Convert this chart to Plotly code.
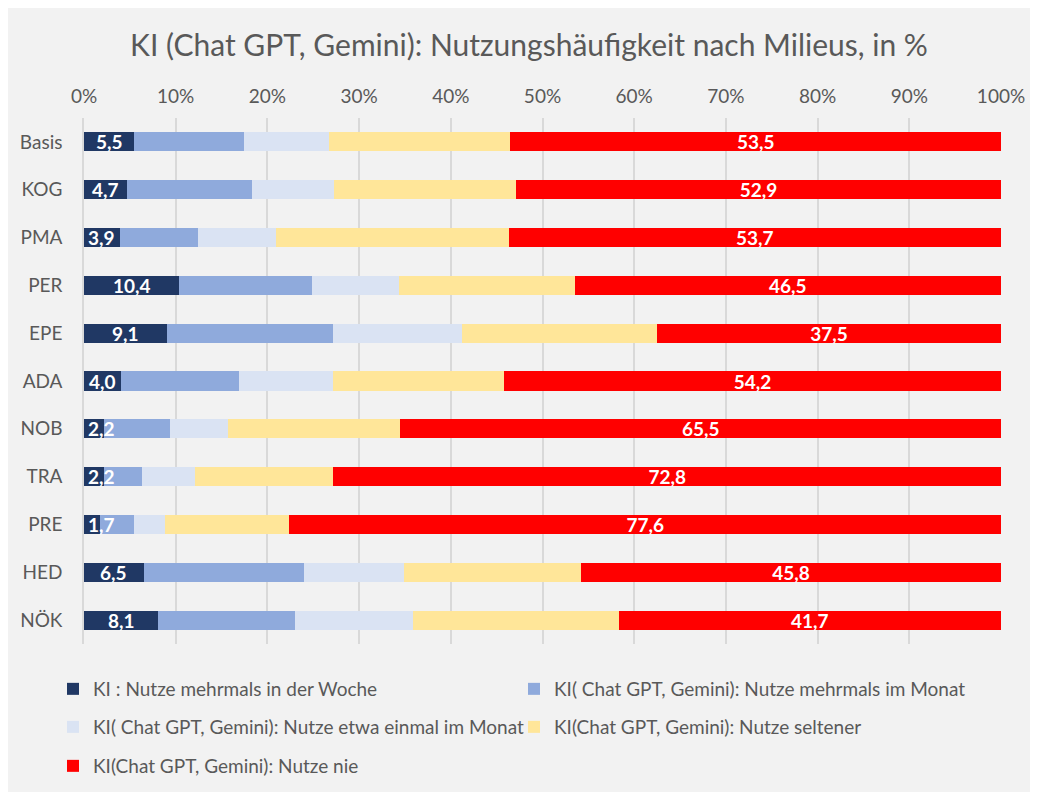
import plotly.graph_objects as go

categories = ["Basis", "KOG", "PMA", "PER", "EPE", "ADA", "NOB", "TRA", "PRE", "HED", "NÖK"]
weekly = [5.5, 4.7, 3.9, 10.4, 9.1, 4.0, 2.2, 2.2, 1.7, 6.5, 8.1]
monthly_multi = [11.9, 13.6, 8.5, 14.5, 18.0, 12.9, 7.2, 4.1, 3.7, 17.5, 14.9]
monthly_once = [9.3, 9.0, 8.5, 9.4, 14.1, 10.3, 6.3, 5.8, 3.4, 10.9, 12.9]
rarely = [19.8, 19.8, 25.4, 19.2, 21.3, 18.6, 18.8, 15.1, 13.6, 19.3, 22.4]
never = [53.5, 52.9, 53.7, 46.5, 37.5, 54.2, 65.5, 72.8, 77.6, 45.8, 41.7]

tick_values = [0, 10, 20, 30, 40, 50, 60, 70, 80, 90, 100]
tick_labels = ["0%", "10%", "20%", "30%", "40%", "50%", "60%", "70%", "80%", "90%", "100%"]

series_names = [
    "KI : Nutze mehrmals in der Woche",
    "KI( Chat GPT, Gemini): Nutze mehrmals im Monat",
    "KI( Chat GPT, Gemini): Nutze etwa einmal im Monat",
    "KI(Chat GPT, Gemini): Nutze seltener",
    "KI(Chat GPT, Gemini): Nutze nie",
]
colors = ["#203864", "#8faadc", "#dae3f3", "#ffe699", "#ff0000"]
series = [weekly, monthly_multi, monthly_once, rarely, never]
labeled = [False, False, False, False, True]
legend_ids = ["legend", "legend", "legend2", "legend2", "legend3"]

def fmt(v):
    return f"{v:.1f}".replace(".", ",")

font_family = "Lato, 'Open Sans', 'Liberation Sans', sans-serif"
gray = "#595959"

# figure is placed by the page with an 8px offset; size/coords account for it
W, H = 1030, 784
L, R, T, B = 76, 37, 110, 148
PW, PH = W - L - R, H - T - B

label_font = dict(color="white", size=19, family=font_family, weight="bold")

fig = go.Figure()
for name, vals, col, lab, lg in zip(series_names, series, colors, labeled, legend_ids):
    fig.add_trace(go.Bar(
        y=categories, x=vals, name=name, orientation="h",
        marker=dict(color=col, line=dict(width=0)),
        text=[fmt(v) for v in vals] if lab else None,
        textposition="inside" if lab else "none",
        insidetextanchor="middle",
        textangle=0,
        constraintext="none",
        textfont=label_font,
        legend=lg,
        hoverinfo="skip",
    ))

# labels for the first (dark) segment: centred, but kept inside the plot when the segment is narrow
annotations = []
for cat, v in zip(categories, weekly):
    if v < 3.0:
        annotations.append(dict(x=0, y=cat, xref="x", yref="y", text=fmt(v), showarrow=False,
                                xanchor="left", xshift=2, font=label_font))
    else:
        annotations.append(dict(x=v / 2, y=cat, xref="x", yref="y", text=fmt(v), showarrow=False,
                                xanchor="center", font=label_font))

legend_common = dict(
    orientation="h", entrywidth=416, entrywidthmode="pixels",
    font=dict(size=19, color=gray, family=font_family),
    bgcolor="rgba(0,0,0,0)", itemwidth=30, xanchor="left", yanchor="middle",
    traceorder="normal",
)
lx = (45 - L) / PW

fig.update_layout(
    barmode="stack",
    bargap=0.6,
    width=W, height=H,
    paper_bgcolor="#f2f2f2",
    plot_bgcolor="#f2f2f2",
    margin=dict(l=L, r=R, t=T, b=B, autoexpand=False),
    title=dict(
        text="KI (Chat GPT, Gemini): Nutzungshäufigkeit nach Milieus, in %",
        x=521 / W, xref="container", xanchor="center", y=1 - 37 / H, yref="container", yanchor="middle",
        font=dict(size=30, color=gray, family=font_family),
    ),
    xaxis=dict(
        range=[0, 100], side="top", tickmode="array", tickvals=tick_values, ticktext=tick_labels,
        showgrid=True, gridcolor="#d9d9d9", gridwidth=1.5,
        zeroline=False, showline=False, ticks="", ticklabelstandoff=10,
        tickfont=dict(size=19, color=gray, family=font_family),
    ),
    yaxis=dict(
        categoryorder="array", categoryarray=categories, autorange="reversed",
        showgrid=False, zeroline=False, showline=True, linecolor="#d9d9d9", linewidth=1.5,
        ticks="", ticklabelstandoff=16,
        tickfont=dict(size=19, color=gray, family=font_family),
    ),
    annotations=annotations,
    legend=dict(x=lx, y=(PH + T - 681) / PH, **legend_common),
    legend2=dict(x=lx, y=(PH + T - 719) / PH, **legend_common),
    legend3=dict(x=lx, y=(PH + T - 758) / PH, **legend_common),
    showlegend=True,
)

fig.write_html("out.html")
